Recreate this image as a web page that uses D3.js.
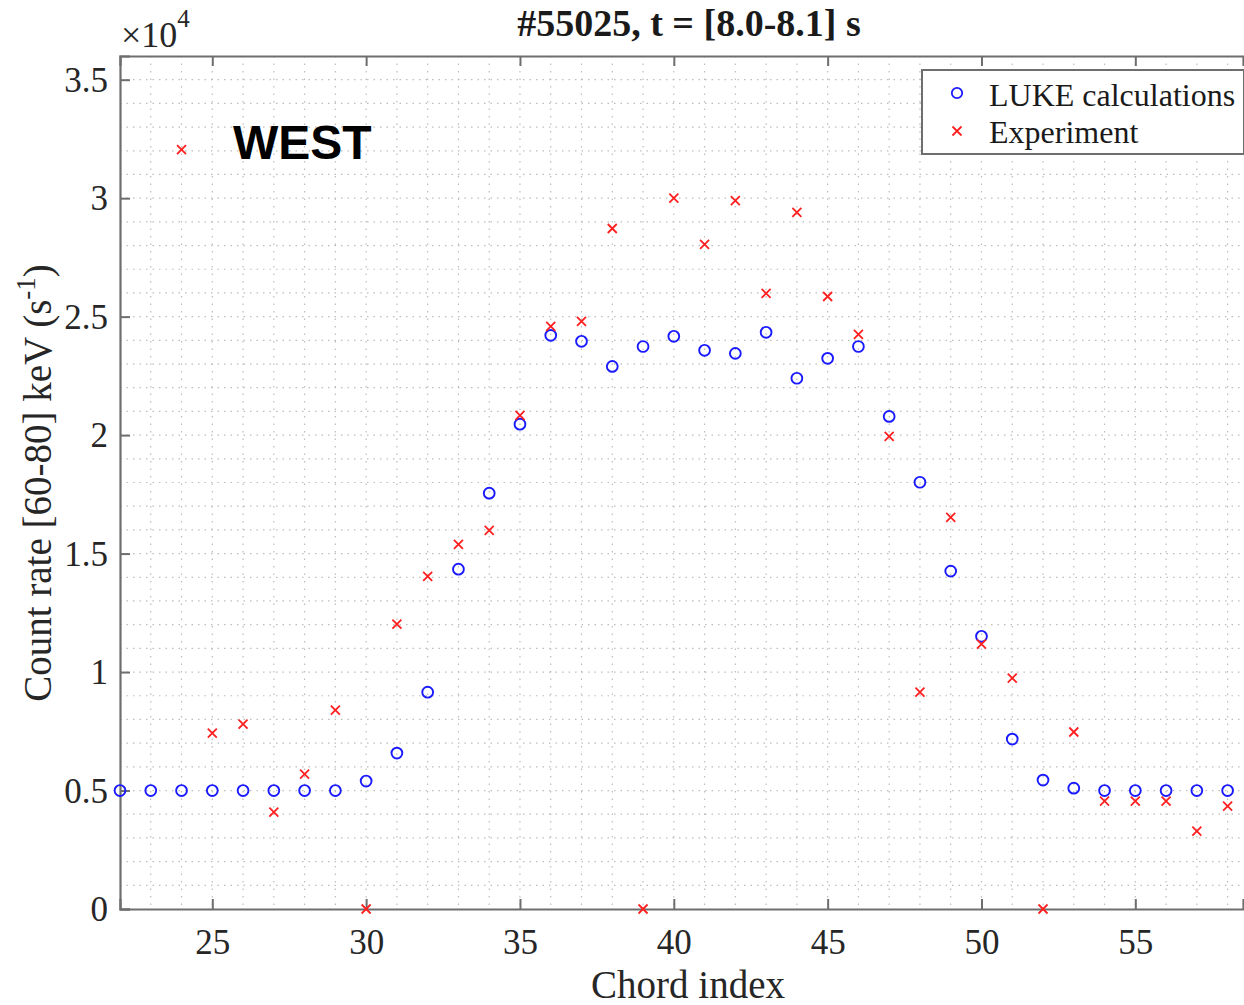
<!DOCTYPE html>
<html><head><meta charset="utf-8">
<script src="https://cdn.jsdelivr.net/npm/d3@7"></script>
<style>body{margin:0;background:#fff}svg{display:block}</style>
</head><body>
<svg id="c" width="1244" height="1005"></svg>
<script>
const chords = d3.range(22, 59);
const lukeValues = [5000,5000,5000,5000,5000,5000,5000,5000,5400,6580,9150,14340,17550,20460,24210,23960,22900,23740,24170,23580,23450,24340,22400,23240,23740,20790,18010,14260,11510,7170,5440,5100,5000,5000,5000,5000,5000];
const expChords = d3.range(24, 59);
const expValues = [32050,7420,7800,4090,5690,8390,0,12020,14040,15390,15980,20830,24590,24800,28720,0,30000,28050,29900,25980,29400,25850,24250,19950,9150,16530,11180,9740,0,7470,4550,4550,4550,3290,4340];
const xTicks = [25,30,35,40,45,50,55];
const yTicks = [0,5000,10000,15000,20000,25000,30000,35000];
const yTickLabels = ["0","0.5","1","1.5","2","2.5","3","3.5"];
const legendLabels = ["LUKE calculations","Experiment"];

const svg = d3.select("#c");
const L = 120, R = 1243, T = 56, B = 909;
const x = d3.scaleLinear().domain([22, 58.5]).range([L, R]);
const y = d3.scaleLinear().domain([0, 36000]).range([B, T]);
const serif = "'Liberation Serif','Times New Roman',serif";
const axisCol = "#6e6e6e";

// grid
const g = svg.append("g");
const xMinor = d3.range(23, 59, 1);
g.selectAll("line.vx").data(xMinor).enter().append("line")
  .attr("x1", d => x(d)).attr("x2", d => x(d)).attr("y1", T).attr("y2", B)
  .attr("stroke", "#bdbdbd").attr("stroke-width", 1.2).attr("stroke-dasharray", "1.5,6");
const yMinor = d3.range(1000, 36000, 1000);
g.selectAll("line.hy").data(yMinor).enter().append("line")
  .attr("x1", L).attr("x2", R).attr("y1", d => y(d)).attr("y2", d => y(d))
  .attr("stroke", "#bdbdbd").attr("stroke-width", 1.2).attr("stroke-dasharray", "1.5,5");

// axes
const xAxisB = d3.axisBottom(x).tickValues(xTicks).tickSize(-10).tickPadding(20).tickFormat(d3.format("d"));
const gx = svg.append("g").attr("transform", `translate(0,${B})`).call(xAxisB);
const xAxisT = d3.axisTop(x).tickValues(xTicks).tickSize(-10).tickFormat("");
const gxt = svg.append("g").attr("transform", `translate(0,${T})`).call(xAxisT);
const yAxisL = d3.axisLeft(y).tickValues(yTicks).tickSize(-10).tickPadding(12).tickFormat((d,i) => yTickLabels[i]);
const gy = svg.append("g").attr("transform", `translate(${L},0)`).call(yAxisL);
[gx, gxt, gy].forEach(a => {
  a.select(".domain").attr("stroke", axisCol).attr("stroke-width", 2.2);
  a.selectAll(".tick line").attr("stroke", axisCol).attr("stroke-width", 2);
  a.selectAll(".tick text").attr("font-family", serif).attr("font-size", 35).attr("fill", "#262626");
});
gy.selectAll(".tick text").attr("dy", "0.33em");
gx.selectAll(".tick text").attr("dy", "0.71em");

// data
svg.append("g").selectAll("circle").data(chords.map((c,i)=>[c, lukeValues[i]])).enter().append("circle")
  .attr("cx", d => x(d[0])).attr("cy", d => y(d[1])).attr("r", 5.4)
  .attr("fill", "none").attr("stroke", "#1a1aff").attr("stroke-width", 1.9);
const cs = 4.5;
const crossPath = (cx, cy) => `M${cx-cs},${cy-cs}L${cx+cs},${cy+cs}M${cx-cs},${cy+cs}L${cx+cs},${cy-cs}`;
svg.append("g").selectAll("path").data(expChords.map((c,i)=>[c, expValues[i]])).enter().append("path")
  .attr("d", d => crossPath(x(d[0]), y(d[1])))
  .attr("stroke", "#ff2020").attr("stroke-width", 1.8).attr("fill", "none");

// legend
const lg = svg.append("g");
lg.append("rect").attr("x", 922).attr("y", 70).attr("width", 322).attr("height", 84)
  .attr("fill", "#fff").attr("stroke", axisCol).attr("stroke-width", 2);
lg.append("circle").attr("cx", 957).attr("cy", 93).attr("r", 5.2).attr("fill", "none").attr("stroke", "#1a1aff").attr("stroke-width", 1.8);
lg.append("path").attr("d", crossPath(957, 131)).attr("stroke", "#ff2020").attr("stroke-width", 1.8);
lg.selectAll("text").data(legendLabels).enter().append("text")
  .attr("x", 989).attr("y", (d,i) => 106 + i*37).text(d => d)
  .attr("font-family", serif).attr("font-size", 32).attr("fill", "#1a1a1a");

// title
svg.append("text").attr("x", 689).attr("y", 36).attr("text-anchor", "middle")
  .attr("font-family", serif).attr("font-weight", "bold").attr("font-size", 38).attr("fill", "#1a1a1a")
  .text("#55025, t = [8.0-8.1] s");

// exponent
const ex = svg.append("text").attr("x", 121).attr("y", 47).attr("font-family", serif).attr("font-size", 36).attr("fill", "#262626");
ex.append("tspan").text("\u00d710");
ex.append("tspan").attr("dy", -20).attr("font-size", 25).text("4");

// WEST
svg.append("text").attr("x", 233).attr("y", 159).attr("font-family", "'Liberation Sans',Arial,sans-serif")
  .attr("font-weight", "bold").attr("font-size", 48).attr("fill", "#000").text("WEST");

// axis labels
svg.append("text").attr("x", 688).attr("y", 998).attr("text-anchor", "middle")
  .attr("font-family", serif).attr("font-size", 39).attr("fill", "#262626").text("Chord index");
const yl = svg.append("text").attr("transform", "translate(51,483) rotate(-90)").attr("text-anchor", "middle")
  .attr("font-family", serif).attr("font-size", 39).attr("fill", "#262626");
yl.append("tspan").text("Count rate [60-80] keV (s");
yl.append("tspan").attr("dy", -16).attr("font-size", 27).text("-1");
yl.append("tspan").attr("dy", 16).text(")");
</script>
</body></html>
